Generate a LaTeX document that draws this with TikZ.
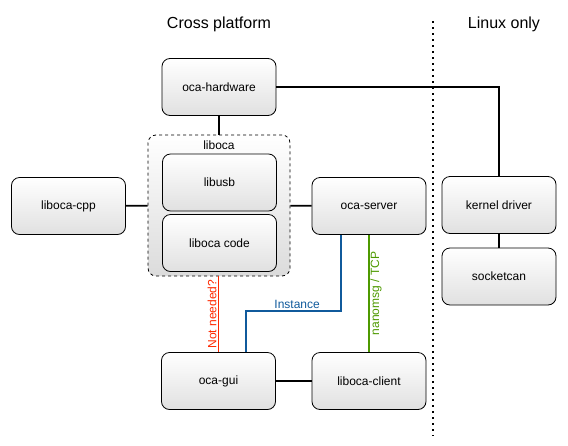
\documentclass[tikz,border=0pt]{standalone}
\usepackage{fontspec}
\setmainfont{Liberation Sans}
\begin{document}
\begin{tikzpicture}[x=1pt,y=-1pt]
\tikzstyle{mybox} = [draw, line width=0.8pt, rounded corners=8pt, top color=white, bottom color=black!12, minimum width=114pt, minimum height=57pt, inner sep=0pt, font=\fontsize{12}{14}\selectfont]
\tikzstyle{mygroup} = [draw, line width=0.8pt, dash pattern=on 3pt off 3pt, rounded corners=8pt, top color=white, bottom color=black!14, minimum width=142pt, minimum height=141pt, inner sep=0pt]
\tikzstyle{mytitle} = [font=\fontsize{16}{19}\selectfont]
\tikzstyle{mylabel} = [font=\fontsize{12}{14}\selectfont, inner sep=1pt]
\tikzstyle{link} = [line width=1.8pt]
\useasboundingbox (0,0) rectangle (568,445);
	\node[mytitle] (crosstitle) at (219,24) {Cross platform};
	\node[mytitle] (linuxtitle) at (504,24) {Linux only};
	\coordinate (divtop) at (433,21);
	\coordinate (divbot) at (433,436);
	\draw[line width=2pt, dash pattern=on 2pt off 4pt] (divtop) -- (divbot);
	\node[mygroup] (liboca) at (219,205.5) {};
	\node[mylabel, below=4.5pt] (libocatitle) at (liboca.north) {liboca};
	\node[mybox] (hw) at (219,87) {oca-hardware};
	\node[mybox] (usb) at (219.5,182.5) {libusb};
	\node[mybox] (code) at (219.5,243) {liboca code};
	\node[mybox] (cpp) at (68.5,206) {liboca-cpp};
	\node[mybox] (server) at (369,206) {oca-server};
	\node[mybox] (kernel) at (499,205) {kernel driver};
	\node[mybox] (socketcan) at (499,276.5) {socketcan};
	\node[mybox] (gui) at (218.5,381) {oca-gui};
	\node[mybox] (client) at (369,381) {liboca-client};
	\draw[link] (hw) -- (liboca);
	\draw[link] (cpp) -- (liboca);
	\draw[link] (liboca) -- (server);
	\draw[link] (hw.east) -| (kernel.north);
	\draw[link] (kernel) -- (socketcan);
	\draw[link] (gui) -- (client);
	\draw[link, color={rgb,255:red,255;green,40;blue,0}] (liboca.south -| gui.north) -- (gui.north)
		node[midway, rotate=90, anchor=south, mylabel] {Not needed?};
	\draw[link, color={rgb,255:red,16;green,90;blue,156}] ([xshift=29pt]server.south west) -- ++(0,76)
		-| node[pos=0.23, anchor=south, mylabel] {Instance} ([xshift=85pt]gui.north west);
	\draw[link, color={rgb,255:red,77;green,153;blue,0}] ([xshift=57pt]server.south west) -- ([xshift=57pt]client.north west)
		node[midway, rotate=90, anchor=north, mylabel] {nanomsg / TCP};
\end{tikzpicture}
\end{document}
